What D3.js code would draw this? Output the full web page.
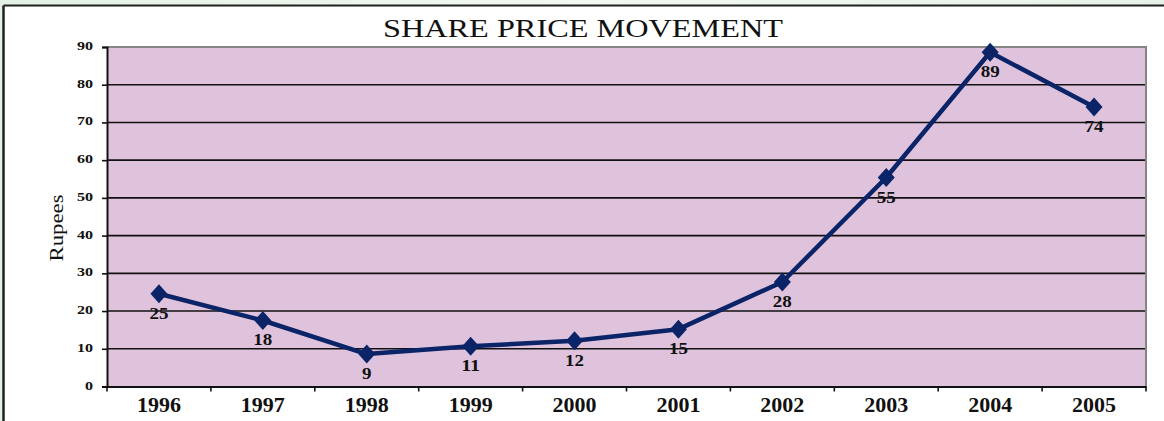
<!DOCTYPE html>
<html><head><meta charset="utf-8">
<script src="https://cdn.jsdelivr.net/npm/d3@7"></script>
<style>html,body{margin:0;padding:0;background:#fff;}svg{display:block;}</style>
</head><body>
<svg id="chart" width="1164" height="421"></svg>
<script>
const years = ["1996","1997","1998","1999","2000","2001","2002","2003","2004","2005"];
const prices = [24.6, 17.5, 8.6, 10.7, 12.1, 15.2, 27.7, 55.4, 88.6, 74.1];
const yTicks = [0,10,20,30,40,50,60,70,80,90];
const titleText = "SHARE PRICE MOVEMENT";
const yLabel = "Rupees";

const svg = d3.select("#chart");
const W = 1164, H = 421;
const m = {left:107, right:18, top:47, bottom:34.5};
const serif = "'Liberation Serif','DejaVu Serif',serif";

// background frame
const bg = svg.append("defs").append("linearGradient").attr("id","bgGrad").attr("x1","0").attr("x2","1");
bg.append("stop").attr("offset","0%").attr("stop-color","#e3f1e4");
bg.append("stop").attr("offset","50%").attr("stop-color","#f2f8f2");
bg.append("stop").attr("offset","100%").attr("stop-color","#e6f2e7");
svg.append("rect").attr("width",W).attr("height",H).attr("fill","url(#bgGrad)");
svg.append("rect").attr("x",4).attr("y",6.5).attr("width",W-4).attr("height",H-6.5).attr("fill","#fff");
svg.append("line").attr("x1",3.5).attr("x2",W).attr("y1",5.5).attr("y2",5.5).attr("stroke","#222").attr("stroke-width",2);
svg.append("line").attr("x1",3.5).attr("x2",3.5).attr("y1",5.5).attr("y2",H).attr("stroke","#222").attr("stroke-width",2.5);

const x = d3.scaleBand().domain(years).range([m.left, W-m.right]).padding(0);
const y = d3.scaleLinear().domain([0,90]).range([H-m.bottom, m.top]);

// plot area
svg.append("rect").attr("x",m.left).attr("y",m.top).attr("width",W-m.right-m.left).attr("height",H-m.bottom-m.top).attr("fill","#dfc3dd");

// gridlines
svg.append("g").selectAll("line").data(yTicks.filter(d=>d>0 && d<90)).join("line")
  .attr("x1",m.left).attr("x2",W-m.right).attr("y1",d=>y(d)).attr("y2",d=>y(d))
  .attr("stroke","#111").attr("stroke-width",1.6);
// top and right border
svg.append("line").attr("x1",m.left).attr("x2",W-m.right+1).attr("y1",y(90)).attr("y2",y(90)).attr("stroke","#858585").attr("stroke-width",2.2);
svg.append("line").attr("x1",W-m.right).attr("x2",W-m.right).attr("y1",y(90)).attr("y2",y(0)).attr("stroke","#858585").attr("stroke-width",2);

// y axis
const yAxis = svg.append("g").attr("transform",`translate(${m.left},0)`)
  .call(d3.axisLeft(y).tickValues(yTicks).tickSize(5).tickPadding(9));
yAxis.select(".domain").attr("stroke","#111").attr("stroke-width",2);
yAxis.selectAll(".tick line").attr("stroke","#111").attr("stroke-width",1.6);
yAxis.selectAll(".tick text").attr("font-family",serif).attr("font-size",12.5).attr("font-weight","bold").attr("fill","#111")
  .attr("textLength",d=>String(d).length*8).attr("lengthAdjust","spacingAndGlyphs").attr("dy","0.2em");

// x axis
const xAxis = svg.append("g").attr("transform",`translate(0,${y(0)})`)
  .call(d3.axisBottom(x).tickSize(0).tickPadding(14));
xAxis.select(".domain").attr("stroke","#111").attr("stroke-width",2);
xAxis.selectAll(".tick text").attr("font-family",serif).attr("font-size",20).attr("font-weight","bold").attr("fill","#111")
  .attr("textLength",44).attr("lengthAdjust","spacingAndGlyphs").attr("dy","0.55em");
// boundary ticks
svg.append("g").selectAll("line").data(years.concat(["end"])).join("line")
  .attr("x1",(d,i)=>m.left + i*x.bandwidth()).attr("x2",(d,i)=>m.left + i*x.bandwidth())
  .attr("y1",y(0)).attr("y2",y(0)+5).attr("stroke","#111").attr("stroke-width",1.6);

// line
const cx = d=>x(d)+x.bandwidth()/2;
svg.append("path").datum(years.map((yr,i)=>[cx(yr), y(prices[i])]))
  .attr("d",d3.line()).attr("fill","none").attr("stroke","#0b2468").attr("stroke-width",4.5).attr("stroke-linejoin","round");
// markers
svg.append("g").selectAll("path").data(years).join("path")
  .attr("transform",(d,i)=>`translate(${cx(d)},${y(prices[i])})`)
  .attr("d","M0,-9.5L8.5,0L0,9.5L-8.5,0Z").attr("fill","#0b2468");
// labels
svg.append("g").selectAll("text").data(years).join("text")
  .attr("x",d=>cx(d)).attr("y",(d,i)=>y(prices[i])+25)
  .attr("text-anchor","middle").attr("font-family",serif).attr("font-size",16).attr("font-weight","bold").attr("fill","#111")
  .attr("textLength",(d,i)=>String(Math.round(prices[i])).length*9.5).attr("lengthAdjust","spacingAndGlyphs")
  .text((d,i)=>Math.round(prices[i]));

// title
svg.append("text").attr("x",583).attr("y",37).attr("text-anchor","middle")
  .attr("font-family",serif).attr("font-size",25).attr("fill","#111")
  .attr("textLength",400).attr("lengthAdjust","spacingAndGlyphs").text(titleText);
// y label
svg.append("text").attr("transform",`translate(63,228) rotate(-90)`).attr("text-anchor","middle")
  .attr("font-family",serif).attr("font-size",18).attr("fill","#111")
  .attr("textLength",67).attr("lengthAdjust","spacingAndGlyphs").text(yLabel);
</script>
</body></html>
